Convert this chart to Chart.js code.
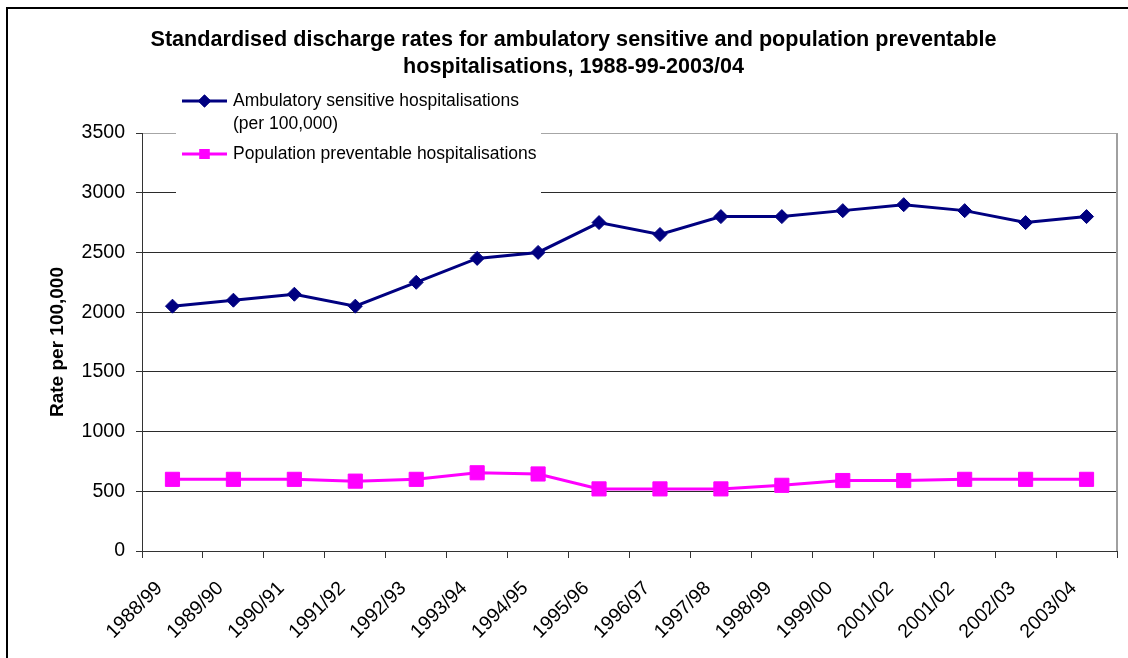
<!DOCTYPE html>
<html>
<head>
<meta charset="utf-8">
<script src="https://cdn.jsdelivr.net/npm/chart.js@4.4.1/dist/chart.umd.min.js"></script>
<style>
  html, body { margin: 0; padding: 0; background: #ffffff; }
  canvas { display: block; }
</style>
</head>
<body>
<canvas id="chart" width="1128" height="658"></canvas>
<script>
// Financial years on the category axis
const years = ['1988/99', '1989/90', '1990/91', '1991/92', '1992/93', '1993/94', '1994/95', '1995/96',
               '1996/97', '1997/98', '1998/99', '1999/00', '2001/02', '2001/02', '2002/03', '2003/04'];

// Standardised discharge rates per 100,000
const ambulatorySensitive = [2050, 2100, 2150, 2050, 2250, 2450, 2500, 2750,
                             2650, 2800, 2800, 2850, 2900, 2850, 2750, 2800];
const populationPreventable = [600, 600, 600, 585, 600, 655, 645, 520,
                               520, 520, 550, 590, 590, 600, 600, 600];

// Value axis ticks
const rateTicks = [0, 500, 1000, 1500, 2000, 2500, 3000, 3500];

const titleLines = ['Standardised discharge rates for ambulatory sensitive and population preventable',
                    'hospitalisations, 1988-99-2003/04'];
const seriesNames = ['Ambulatory sensitive hospitalisations (per 100,000)',
                     'Population preventable hospitalisations'];
const yAxisTitle = 'Rate per 100,000';

const FONT = "'Liberation Sans', Arial, sans-serif";

// Page frame, plot border and the in-plot legend
const framePlugin = {
  id: 'frame',
  beforeDraw(chart) {
    const ctx = chart.ctx;
    ctx.save();
    ctx.fillStyle = '#ffffff';
    ctx.fillRect(0, 0, chart.width, chart.height);
    ctx.strokeStyle = '#000000';
    ctx.lineWidth = 2;
    ctx.strokeRect(7, 8, chart.width + 50, chart.height + 50);
    ctx.restore();
  },
  afterDatasetsDraw(chart) {
    const ctx = chart.ctx;
    const a = chart.chartArea;
    ctx.save();
    // right edge of the plot area
    ctx.strokeStyle = '#a0a0a0';
    ctx.lineWidth = 2;
    ctx.beginPath();
    ctx.moveTo(a.right, a.top);
    ctx.lineTo(a.right, a.bottom);
    ctx.stroke();

    // legend box
    ctx.fillStyle = '#ffffff';
    ctx.fillRect(176, 86, 365, 110);

    const sampleLeft = 182, sampleRight = 227, textX = 233;
    const lineH = 23;
    const rows = [101, 154];
    ctx.font = '17.5px ' + FONT;
    ctx.textBaseline = 'middle';
    ctx.textAlign = 'left';
    chart.data.datasets.forEach((ds, i) => {
      const y = rows[i];
      ctx.strokeStyle = ds.borderColor;
      ctx.lineWidth = 3;
      ctx.beginPath();
      ctx.moveTo(sampleLeft, y);
      ctx.lineTo(sampleRight, y);
      ctx.stroke();
      Chart.helpers.drawPoint(ctx, {
        pointStyle: ds.pointStyle,
        radius: ds.pointStyle === 'rect' ? 5 : 4.5,
        rotation: 0,
        borderWidth: 1
      }, (sampleLeft + sampleRight) / 2, y);
      ctx.fillStyle = ds.pointBackgroundColor;
      ctx.strokeStyle = ds.pointBorderColor;
      ctx.fill();
      ctx.stroke();

      // wrap long names
      const words = ds.label.split(' ');
      const lines = [];
      let cur = '';
      words.forEach(w => {
        const test = cur ? cur + ' ' + w : w;
        if (ctx.measureText(test).width > 315 && cur) {
          lines.push(cur);
          cur = w;
        } else {
          cur = test;
        }
      });
      if (cur) lines.push(cur);
      ctx.fillStyle = '#000000';
      lines.forEach((t, k) => ctx.fillText(t, textX, y + k * lineH));
    });
    ctx.restore();
  }
};

new Chart(document.getElementById('chart'), {
  type: 'line',
  data: {
    labels: years,
    datasets: [
      {
        label: seriesNames[0],
        data: ambulatorySensitive,
        borderColor: '#000080',
        backgroundColor: '#000080',
        pointBackgroundColor: '#000080',
        pointBorderColor: '#000080',
        borderWidth: 3,
        pointStyle: 'rectRot',
        pointRadius: 7,
        pointBorderWidth: 1,
        tension: 0
      },
      {
        label: seriesNames[1],
        data: populationPreventable,
        borderColor: '#ff00ff',
        backgroundColor: '#ff00ff',
        pointBackgroundColor: '#ff00ff',
        pointBorderColor: '#ff00ff',
        borderWidth: 3,
        pointStyle: 'rect',
        pointRadius: 10,
        pointBorderWidth: 1,
        tension: 0
      }
    ]
  },
  options: {
    responsive: false,
    animation: false,
    devicePixelRatio: 1,
    layout: { padding: { left: 24, right: 5, top: 0, bottom: 0 } },
    plugins: {
      legend: { display: false },
      tooltip: { enabled: false },
      title: {
        display: true,
        text: titleLines,
        color: '#000000',
        font: { family: FONT, size: 21.6, weight: 'bold', lineHeight: '27px' },
        padding: { top: 27, bottom: 52 }
      }
    },
    scales: {
      x: {
        type: 'category',
        offset: true,
        afterFit(scale) { scale.height = 107; },
        grid: {
          offset: true,
          drawOnChartArea: false,
          drawTicks: true,
          tickLength: 7,
          color: '#333333',
          lineWidth: 1
        },
        border: { display: true, color: '#333333', width: 1 },
        ticks: {
          autoSkip: false,
          minRotation: 45,
          maxRotation: 45,
          labelOffset: -13,
          padding: 19,
          color: '#000000',
          font: { family: FONT, size: 19.5 }
        }
      },
      y: {
        min: 0,
        max: 3500,
        afterFit(scale) { scale.width = 118; },
        afterBuildTicks(scale) { scale.ticks = rateTicks.map(v => ({ value: v })); },
        grid: {
          color: ctx => (ctx.tick && ctx.tick.value === 3500 ? '#a6a6a6' : '#2b2b2b'),
          tickColor: '#333333',
          tickLength: 6,
          lineWidth: 1
        },
        border: { display: true, color: '#333333', width: 1 },
        ticks: {
          padding: 11,
          color: '#000000',
          font: { family: FONT, size: 19.5 },
          callback: v => String(v)
        },
        title: {
          display: true,
          text: yAxisTitle,
          color: '#000000',
          font: { family: FONT, size: 19, weight: 'bold' },
          padding: { top: 22, bottom: 0 }
        }
      }
    }
  },
  plugins: [framePlugin]
});
</script>
</body>
</html>
